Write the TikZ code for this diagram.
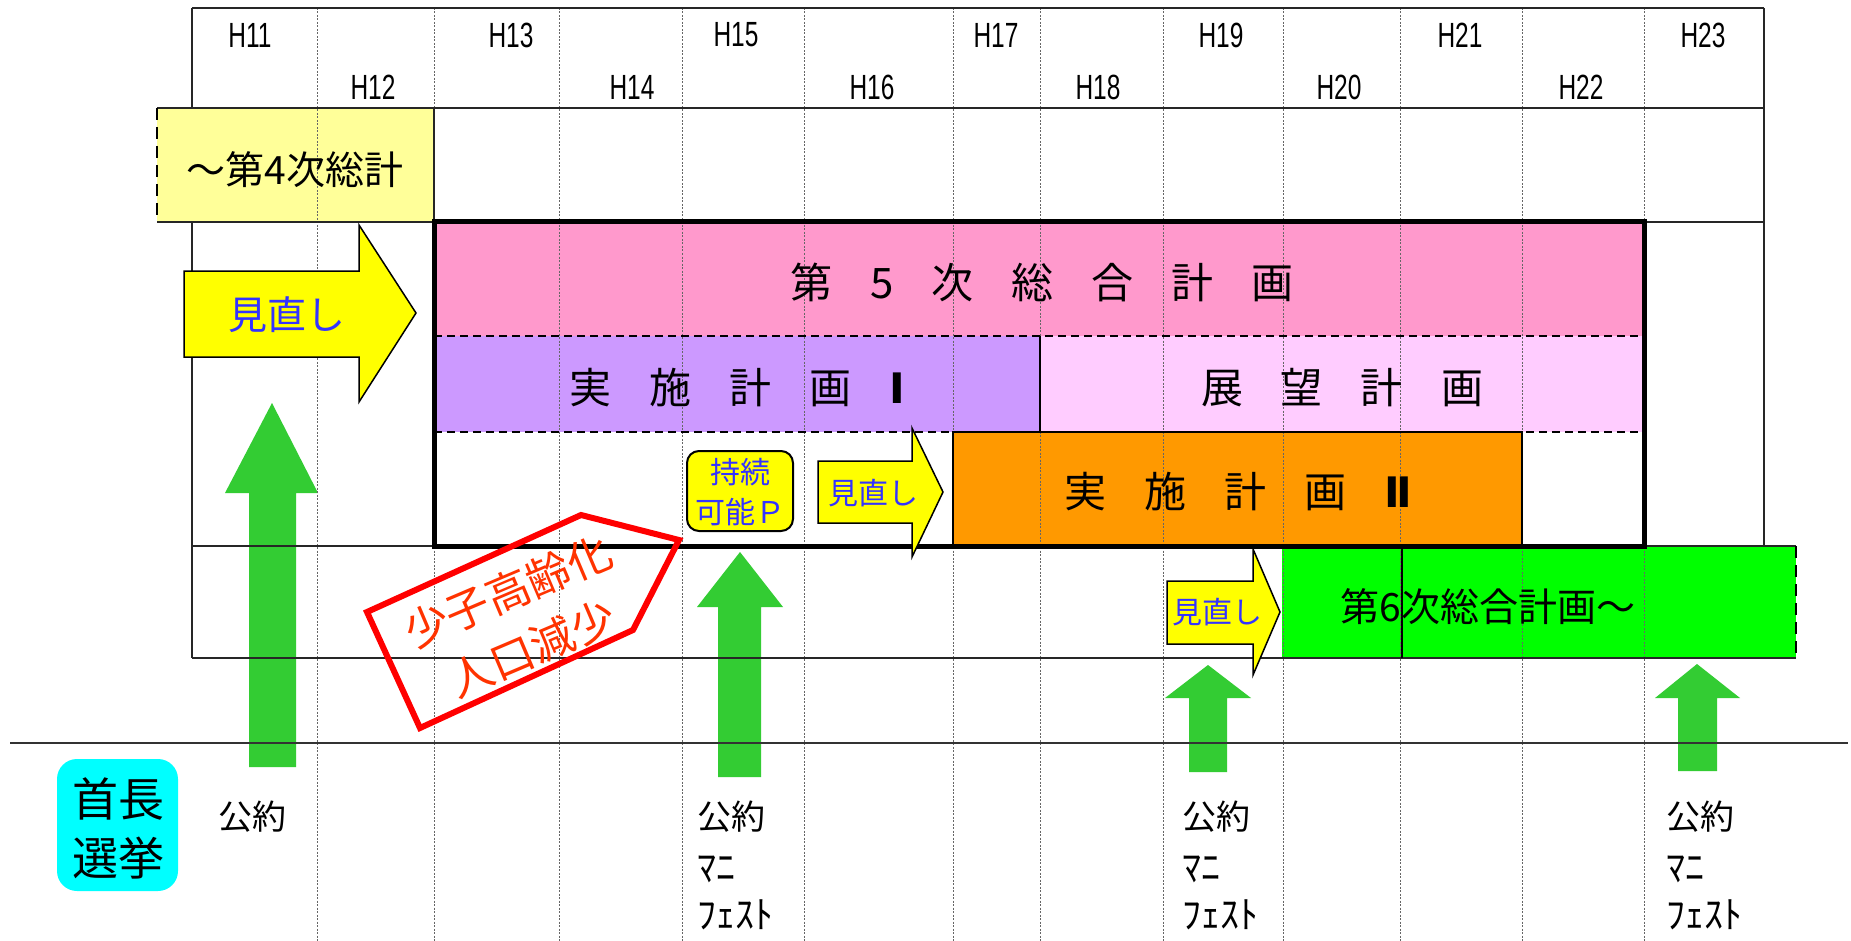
\documentclass[tikz,border=0pt]{standalone}
\usepackage{fontspec}
\setmainfont{Noto Sans CJK JP}
\newfontfamily\hfont[FakeStretch=0.7]{Liberation Sans}
\newfontfamily\romfont{DejaVu Sans}
\definecolor{cfour}{HTML}{FFFF99}
\definecolor{cpink}{HTML}{FF99CC}
\definecolor{cpurp}{HTML}{CC99FF}
\definecolor{clpink}{HTML}{FFCCFF}
\definecolor{corange}{HTML}{FF9900}
\definecolor{cgreen}{HTML}{00FF00}
\definecolor{carrow}{HTML}{33CC33}
\definecolor{cyell}{HTML}{FFFF00}
\definecolor{ccyan}{HTML}{00FFFF}
\definecolor{cblue}{HTML}{3333FF}
\definecolor{cred}{HTML}{FF0000}
\definecolor{credtext}{HTML}{FF3300}
\begin{document}
\begin{tikzpicture}[x=1pt,y=-1pt,
  gridline/.style={draw=black!60, line width=0.8pt, dash pattern=on 2pt off 1.5pt},
  frame/.style={draw=black!85, line width=2pt},
  heavy/.style={draw=black, line width=5pt},
  dashsep/.style={draw=black, line width=2.2pt, dash pattern=on 8pt off 5pt},
  yarrow/.style={fill=cyell, draw=black, line width=1.5pt, line join=miter},
  garrow/.style={fill=carrow, draw=none},
  hlab/.style={font=\hfont\fontsize{35}{35}\selectfont, inner sep=0pt},
  big/.style={font=\fontsize{42}{50}\selectfont, inner sep=0pt},
  mid/.style={font=\fontsize{39}{46}\selectfont, inner sep=0pt},
  bluebig/.style={font=\fontsize{39}{46}\selectfont, text=cblue, inner sep=0pt},
  bluesm/.style={font=\fontsize{30}{36}\selectfont, text=cblue, inner sep=0pt},
  pledge/.style={font=\fontsize{34}{40}\selectfont, inner sep=0pt, anchor=west},
  kana/.style={font=\fontsize{38}{40}\selectfont, inner sep=0pt, anchor=west},
]
\useasboundingbox (0,0) rectangle (1851,941);
\fill[white] (0,0) rectangle (1851,941);

% ---- fills
\fill[cfour] (157,108) rectangle (434,222);
\fill[cpink] (434,222) rectangle (1644,336);
\fill[cpurp] (434,336) rectangle (1040,432);
\fill[clpink] (1040,336) rectangle (1644,432);
\fill[corange] (953,432) rectangle (1522,546);
\fill[cgreen] (1282,546) rectangle (1796,658);

% ---- green arrows (election)
\fill[garrow] (272,403) -- (318,493) -- (296,493) -- (296,767) -- (249,767) -- (249,493) -- (225,493) -- cycle;
\fill[garrow] (740,552) -- (783,607) -- (761,607) -- (761,777) -- (718,777) -- (718,607) -- (697,607) -- cycle;
\fill[garrow] (1208,665) -- (1251,698) -- (1227,698) -- (1227,772) -- (1189,772) -- (1189,698) -- (1165,698) -- cycle;
\fill[garrow] (1697,664) -- (1740,698) -- (1717,698) -- (1717,771) -- (1678,771) -- (1678,698) -- (1655,698) -- cycle;

% ---- dotted year lines
\foreach \xx in {317,434,559,682,804,953,1040,1163,1283,1400,1522,1644}
  \draw[gridline] (\xx,8) -- (\xx,941);

% ---- solid frame lines
\draw[frame] (192,8) -- (1764,8);
\draw[frame] (192,108) -- (1764,108);
\draw[frame] (1644,222) -- (1764,222);
\draw[frame] (192,546) -- (434,546);
\draw[frame] (192,658) -- (1796,658);
\draw[frame] (192,8) -- (192,108);
\draw[frame] (192,222) -- (192,658);
\draw[frame] (1764,8) -- (1764,546);
\draw[frame] (1644,546) -- (1796,546);
\draw[draw=black, line width=2.5pt, dash pattern=on 12pt off 7pt] (1796,546) -- (1796,658);
\draw[draw=black, line width=2pt] (1402,546) -- (1402,658);

% ---- 4th plan box
\draw[frame] (157,108) -- (434,108) -- (434,222) -- (157,222);
\draw[draw=black, line width=2.5pt, dash pattern=on 12pt off 7pt] (157,108) -- (157,222);

% ---- inner separators of 5th plan
\draw[dashsep] (434,336) -- (1644,336);
\draw[dashsep] (434,432) -- (1644,432);
\draw[draw=black, line width=2pt] (1040,336) -- (1040,432);
\draw[draw=black, line width=1.8pt] (953,432) rectangle (1522,546);
\draw[heavy] (434,222) rectangle (1644,546);

% ---- axis line
\draw[draw=black!80, line width=2pt] (10,743) -- (1848,743);

% ---- yellow review arrows
\draw[yarrow] (184,271) -- (359,271) -- (359,225) -- (416,313) -- (359,402) -- (359,357) -- (184,357) -- cycle;
\draw[yarrow] (818,461) -- (912,461) -- (912,428) -- (943,492) -- (912,557) -- (912,523) -- (818,523) -- cycle;
\draw[yarrow] (1167,581) -- (1253,581) -- (1253,549) -- (1280,612) -- (1253,675) -- (1253,644) -- (1167,644) -- cycle;

% ---- sustainable plan box
\draw[fill=cyell, draw=black, line width=2pt, rounded corners=12pt] (687,451) rectangle (793,531);

% ---- chief election box
\fill[ccyan, rounded corners=20pt] (57,759) rectangle (178,891);

% ---- red pentagon
\draw[draw=cred, line width=6pt, line join=miter] (367,612) -- (581,515) -- (679,540) -- (633,630) -- (420,728) -- cycle;

% ---- year labels
\node[hlab] (h11) at (250,35) {H11};
\node[hlab] (h12) at (373,87) {H12};
\node[hlab] (h13) at (511,35) {H13};
\node[hlab] (h14) at (632,87) {H14};
\node[hlab] (h15) at (736,35) {H15};
\node[hlab] (h16) at (872,87) {H16};
\node[hlab] (h17) at (996,35) {H17};
\node[hlab] (h18) at (1098,87) {H18};
\node[hlab] (h19) at (1221,35) {H19};
\node[hlab] (h20) at (1339,87) {H20};
\node[hlab] (h21) at (1460,35) {H21};
\node[hlab] (h22) at (1581,87) {H22};
\node[hlab] (h23) at (1703,35) {H23};

% ---- plan texts
\node[mid] (p4) at (295,170) {～第4次総計};
\node[big] (p5) at (1042,282) {第\hspace{38pt}5\hspace{38pt}次\hspace{38pt}総\hspace{38pt}合\hspace{38pt}計\hspace{38pt}画};
\node[big] (j1) at (737,388) {実\hspace{38pt}施\hspace{38pt}計\hspace{38pt}画\hspace{38pt}{\romfont\bfseries Ⅰ}};
\node[big] (tb) at (1342,388) {展\hspace{38pt}望\hspace{38pt}計\hspace{38pt}画};
\node[big] (j2) at (1238,492) {実\hspace{38pt}施\hspace{38pt}計\hspace{38pt}画\hspace{38pt}{\romfont\bfseries Ⅱ}};
\node[mid] (p6) at (1488,607) {第6次総合計画～};

% ---- review / sustainable texts
\node[bluebig] (r1) at (287,315) {見直し};
\node[bluesm] (r2) at (873,493) {見直し};
\node[bluesm] (r3) at (1217,612) {見直し};
\node[bluesm, align=center] (sp) at (740,492) {持続\\[4pt]可能Ｐ};

% ---- red text
\node[font=\fontsize{44}{62}\selectfont, text=credtext, align=center, rotate=23, inner sep=0pt] (rt) at (520,620) {少子高齢化\\人口減少};

% ---- chief election
\node[font=\fontsize{46}{59}\selectfont, align=center, inner sep=0pt] (ce) at (118,828) {首長\\選挙};

% ---- pledge labels
\node[pledge] (k1) at (218,817) {公約};
\node[pledge] (k2) at (697,817) {公約};
\node[kana] (m2) at (697,869) {ﾏﾆ};
\node[kana] (f2) at (697,915) {ﾌｪｽﾄ};
\node[pledge] (k3) at (1182,817) {公約};
\node[kana] (m3) at (1182,869) {ﾏﾆ};
\node[kana] (f3) at (1182,915) {ﾌｪｽﾄ};
\node[pledge] (k4) at (1666,817) {公約};
\node[kana] (m4) at (1666,869) {ﾏﾆ};
\node[kana] (f4) at (1666,915) {ﾌｪｽﾄ};
\end{tikzpicture}
\end{document}
